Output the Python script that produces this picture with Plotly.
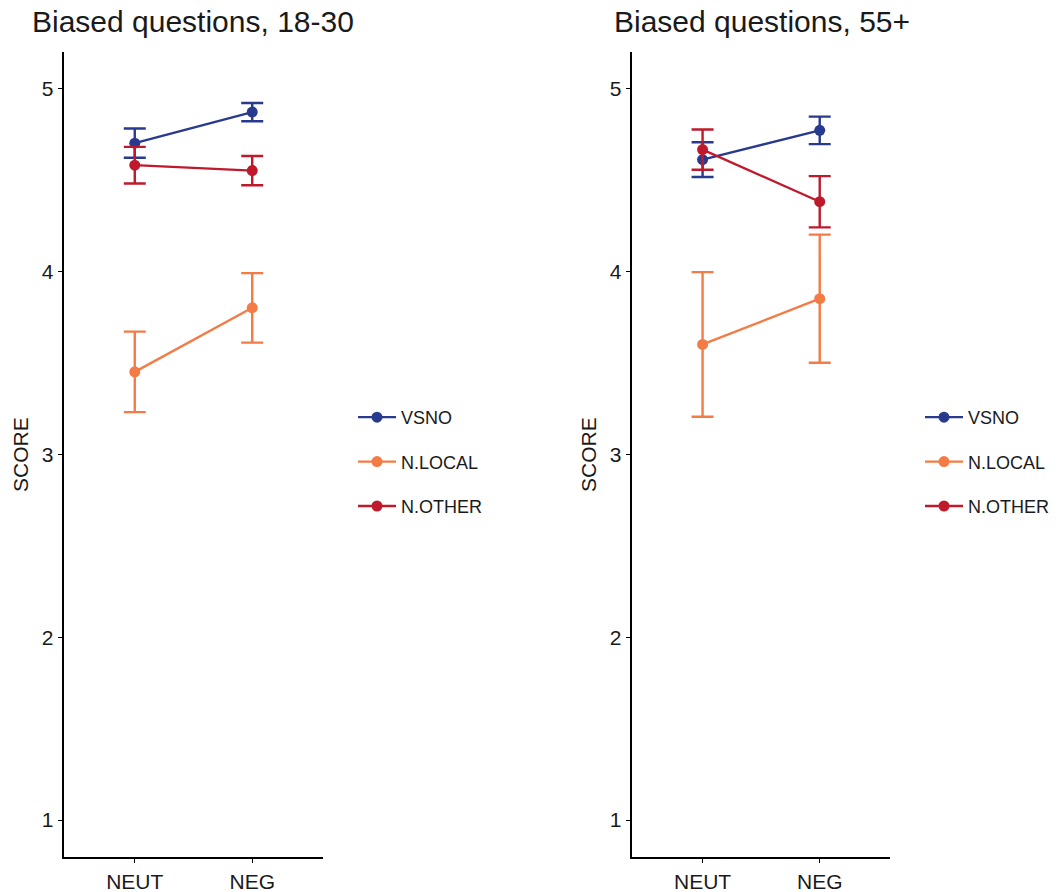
import plotly.graph_objects as go

# Question tone categories and their positions on the discrete x axis
categories = ["NEUT", "NEG"]
cat_pos = [1, 2]

series_names = ["VSNO", "N.LOCAL", "N.OTHER"]
series_colors = ["#283A8E", "#F47B45", "#BE1A2C"]

# Panel 1: ages 18-30 (mean score and error half-width)
young_mean = {
    "VSNO": [4.70, 4.87],
    "N.LOCAL": [3.45, 3.80],
    "N.OTHER": [4.58, 4.55],
}
young_err = {
    "VSNO": [0.08, 0.05],
    "N.LOCAL": [0.22, 0.19],
    "N.OTHER": [0.10, 0.08],
}

# Panel 2: ages 55+
old_mean = {
    "VSNO": [4.61, 4.77],
    "N.LOCAL": [3.60, 3.85],
    "N.OTHER": [4.665, 4.38],
}
old_err = {
    "VSNO": [0.095, 0.075],
    "N.LOCAL": [0.395, 0.35],
    "N.OTHER": [0.11, 0.14],
}

panel_titles = ["Biased questions, 18-30", "Biased questions, 55+"]
y_ticks = [1, 2, 3, 4, 5]

W, H = 1059, 892
FONT = "Liberation Sans, Arial, sans-serif"
TEXT = "#1a1a1a"

fig = go.Figure()

panels = [
    (young_mean, young_err, "x", "y", "legend"),
    (old_mean, old_err, "x2", "y2", "legend2"),
]
for means, errs, xa, ya, leg in panels:
    for name, color in zip(series_names, series_colors):
        fig.add_trace(go.Scatter(
            x=cat_pos, y=means[name],
            mode="lines+markers",
            name=name,
            legendgroup=leg + name,
            legend=leg,
            xaxis=xa, yaxis=ya,
            line=dict(color=color, width=2.3),
            marker=dict(color=color, size=11),
            error_y=dict(type="data", array=errs[name], visible=True,
                         color=color, thickness=2.4, width=11),
            hoverinfo="skip",
        ))

# Plot areas in pixels, converted to paper fractions
def fx(px):
    return px / W

def fy(py):
    return 1 - py / H

plot_top, plot_bottom = 51.7, 856.7
left_area = (64.3, 322.7)
right_area = (632.3, 890.0)

axis_common = dict(
    showline=True, linecolor="black", linewidth=1.5,
    ticks="outside", ticklen=5, tickwidth=1.3, tickcolor="black",
    showgrid=False, zeroline=False,
    tickfont=dict(family=FONT, size=21, color=TEXT),
)

legend_common = dict(
    xanchor="left", yanchor="top",
    font=dict(family=FONT, size=18, color=TEXT),
    tracegroupgap=18, itemwidth=38, bgcolor="rgba(0,0,0,0)",
    itemclick=False, itemdoubleclick=False,
)

fig.update_layout(
    width=W, height=H,
    margin=dict(l=0, r=0, t=0, b=0),
    paper_bgcolor="white", plot_bgcolor="white",
    showlegend=True,
    xaxis=dict(domain=[fx(left_area[0]), fx(left_area[1])], anchor="y",
               range=[0.4, 2.6], tickvals=cat_pos, ticktext=categories,
               **axis_common),
    yaxis=dict(domain=[fy(plot_bottom), fy(plot_top)], anchor="x",
               range=[0.8, 5.2], tickvals=y_ticks, **axis_common),
    xaxis2=dict(domain=[fx(right_area[0]), fx(right_area[1])], anchor="y2",
                range=[0.4, 2.6], tickvals=cat_pos, ticktext=categories,
                **axis_common),
    yaxis2=dict(domain=[fy(plot_bottom), fy(plot_top)], anchor="x2",
                range=[0.8, 5.2], tickvals=y_ticks, **axis_common),
    legend=dict(x=fx(353), y=fy(399), **legend_common),
    legend2=dict(x=fx(920), y=fy(399), **legend_common),
)

# Panel titles
for title, xpx in zip(panel_titles, [30, 612]):
    fig.add_annotation(text=title, xref="paper", yref="paper",
                       x=fx(xpx), y=fy(22), xanchor="left", yanchor="middle",
                       showarrow=False,
                       font=dict(family=FONT, size=30, color=TEXT))

# Y-axis titles
for xpx in [20, 588]:
    fig.add_annotation(text="SCORE", xref="paper", yref="paper",
                       x=fx(xpx), y=fy(455), xanchor="center", yanchor="middle",
                       textangle=-90, showarrow=False,
                       font=dict(family=FONT, size=21, color=TEXT))

fig.write_html("out.html")
